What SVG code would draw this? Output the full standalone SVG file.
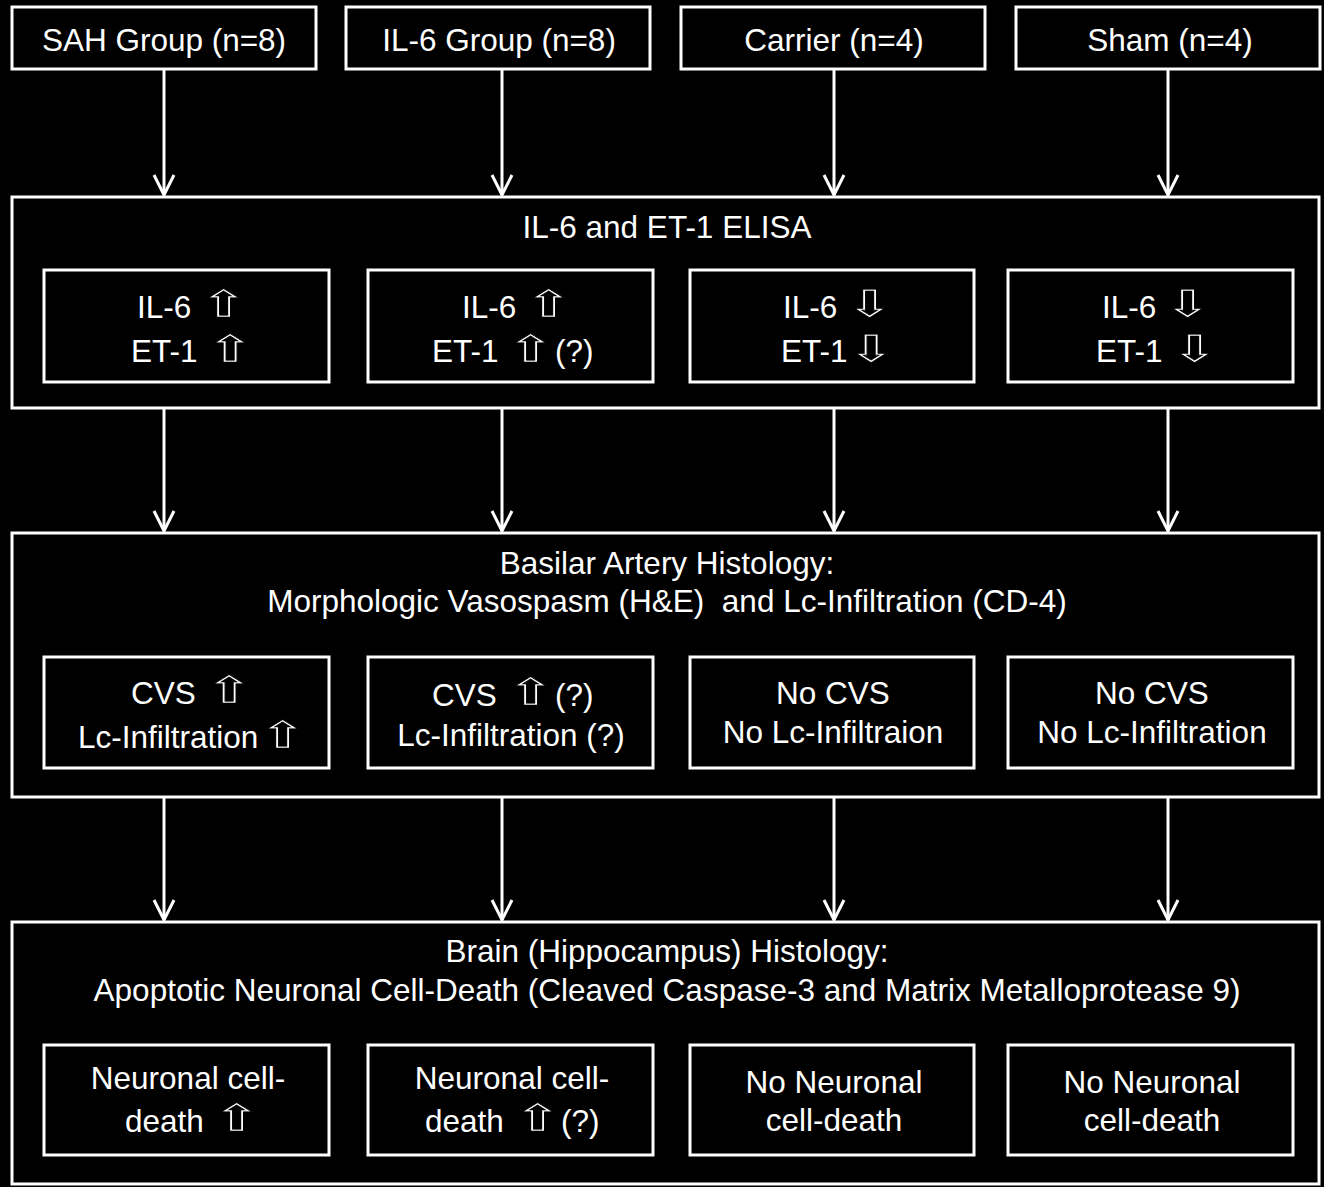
<svg xmlns="http://www.w3.org/2000/svg" width="1324" height="1187" viewBox="0 0 1324 1187">
<defs>
<style>
.box{fill:#000;stroke:#fff;stroke-width:3}
.t{font-family:"Liberation Sans",Arial,sans-serif;font-size:31.5px;fill:#fff;white-space:pre}
.m{text-anchor:middle}
.g{font-family:"DejaVu Sans",sans-serif;font-size:38px;fill:#fff;stroke:#000;stroke-width:0.7px;text-anchor:middle}
.c{stroke:#fff;stroke-width:3;fill:none}
</style>
<marker id="ah" markerUnits="userSpaceOnUse" markerWidth="30" markerHeight="30" viewBox="-25 -15 30 30" refX="0" refY="0" orient="auto">
<path d="M-20,-10 L0,0 L-20,10" fill="none" stroke="#fff" stroke-width="3"/>
</marker>
</defs>
<rect x="0" y="0" width="1324" height="1187" fill="#000"/>

<g id="sah-group">
<rect class="box" x="12" y="7" width="304" height="62"/>
<text class="t m" x="164" y="51">SAH Group (n=8)</text>
</g>
<g id="il6-group">
<rect class="box" x="346" y="7" width="304" height="62"/>
<text class="t m" x="499" y="51">IL-6 Group (n=8)</text>
</g>
<g id="carrier">
<rect class="box" x="681" y="7" width="304" height="62"/>
<text class="t m" x="834" y="51">Carrier (n=4)</text>
</g>
<g id="sham">
<rect class="box" x="1016" y="7" width="304" height="62"/>
<text class="t m" x="1170" y="51">Sham (n=4)</text>
</g>

<g id="elisa">
<rect class="box" x="12" y="197" width="1307" height="211"/>
<text class="t m" x="667" y="238">IL-6 and ET-1 ELISA</text>
</g>
<g id="elisa-sah">
<rect class="box" x="44" y="270" width="285" height="112"/>
<text class="t" x="137" y="318">IL-6</text><text class="g" transform="translate(224,317) scale(1.6,1)">⇧</text>
<text class="t" x="131" y="362">ET-1</text><text class="g" transform="translate(230.5,362) scale(1.6,1)">⇧</text>
</g>
<g id="elisa-il6">
<rect class="box" x="368" y="270" width="285" height="112"/>
<text class="t" x="462" y="318">IL-6</text><text class="g" transform="translate(549,317) scale(1.6,1)">⇧</text>
<text class="t" x="432" y="362">ET-1</text><text class="g" transform="translate(531,362) scale(1.6,1)">⇧</text><text class="t" x="555" y="362">(?)</text>
</g>
<g id="elisa-carrier">
<rect class="box" x="690" y="270" width="284" height="112"/>
<text class="t" x="783" y="318">IL-6</text><text class="g" transform="translate(870,317) scale(1.6,1)">⇩</text>
<text class="t" x="781" y="362">ET-1</text><text class="g" transform="translate(871.5,362) scale(1.6,1)">⇩</text>
</g>
<g id="elisa-sham">
<rect class="box" x="1008" y="270" width="285" height="112"/>
<text class="t" x="1102" y="318">IL-6</text><text class="g" transform="translate(1188,317) scale(1.6,1)">⇩</text>
<text class="t" x="1096" y="362">ET-1</text><text class="g" transform="translate(1195,362) scale(1.6,1)">⇩</text>
</g>

<g id="basilar">
<rect class="box" x="12" y="533" width="1307" height="264"/>
<text class="t m" x="667" y="574">Basilar Artery Histology:</text>
<text class="t m" x="667" y="612">Morphologic Vasospasm (H&amp;E)  and Lc-Infiltration (CD-4)</text>
</g>
<g id="basilar-sah">
<rect class="box" x="44" y="657" width="285" height="111"/>
<text class="t" x="131" y="704">CVS</text><text class="g" transform="translate(229.5,703) scale(1.6,1)">⇧</text>
<text class="t" x="78" y="748">Lc-Infiltration</text><text class="g" transform="translate(283,748) scale(1.6,1)">⇧</text>
</g>
<g id="basilar-il6">
<rect class="box" x="368" y="657" width="285" height="111"/>
<text class="t" x="432" y="706">CVS</text><text class="g" transform="translate(531,705) scale(1.6,1)">⇧</text><text class="t" x="555" y="706">(?)</text>
<text class="t m" x="511" y="746">Lc-Infiltration (?)</text>
</g>
<g id="basilar-carrier">
<rect class="box" x="690" y="657" width="284" height="111"/>
<text class="t m" x="833" y="704">No CVS</text>
<text class="t m" x="833" y="743">No Lc-Infiltraion</text>
</g>
<g id="basilar-sham">
<rect class="box" x="1008" y="657" width="285" height="111"/>
<text class="t m" x="1152" y="704">No CVS</text>
<text class="t m" x="1152" y="743">No Lc-Infiltration</text>
</g>

<g id="brain">
<rect class="box" x="12" y="922" width="1307" height="262"/>
<text class="t m" x="667" y="962">Brain (Hippocampus) Histology:</text>
<text class="t m" x="667" y="1001">Apoptotic Neuronal Cell-Death (Cleaved Caspase-3 and Matrix Metalloprotease 9)</text>
</g>
<g id="brain-sah">
<rect class="box" x="44" y="1045" width="285" height="110"/>
<text class="t m" x="188" y="1089">Neuronal cell-</text>
<text class="t" x="125" y="1132">death</text><text class="g" transform="translate(237,1131) scale(1.6,1)">⇧</text>
</g>
<g id="brain-il6">
<rect class="box" x="368" y="1045" width="285" height="110"/>
<text class="t m" x="512" y="1089">Neuronal cell-</text>
<text class="t" x="425" y="1132">death</text><text class="g" transform="translate(538,1131) scale(1.6,1)">⇧</text><text class="t" x="561" y="1132">(?)</text>
</g>
<g id="brain-carrier">
<rect class="box" x="690" y="1045" width="284" height="110"/>
<text class="t m" x="834" y="1093">No Neuronal</text>
<text class="t m" x="834" y="1131">cell-death</text>
</g>
<g id="brain-sham">
<rect class="box" x="1008" y="1045" width="285" height="110"/>
<text class="t m" x="1152" y="1093">No Neuronal</text>
<text class="t m" x="1152" y="1131">cell-death</text>
</g>

<g id="connectors">
<line class="c" x1="164" y1="70" x2="164" y2="195" marker-end="url(#ah)"/>
<line class="c" x1="502" y1="70" x2="502" y2="195" marker-end="url(#ah)"/>
<line class="c" x1="834" y1="70" x2="834" y2="195" marker-end="url(#ah)"/>
<line class="c" x1="1168" y1="70" x2="1168" y2="195" marker-end="url(#ah)"/>
<line class="c" x1="164" y1="409" x2="164" y2="531" marker-end="url(#ah)"/>
<line class="c" x1="502" y1="409" x2="502" y2="531" marker-end="url(#ah)"/>
<line class="c" x1="834" y1="409" x2="834" y2="531" marker-end="url(#ah)"/>
<line class="c" x1="1168" y1="409" x2="1168" y2="531" marker-end="url(#ah)"/>
<line class="c" x1="164" y1="798" x2="164" y2="920" marker-end="url(#ah)"/>
<line class="c" x1="502" y1="798" x2="502" y2="920" marker-end="url(#ah)"/>
<line class="c" x1="834" y1="798" x2="834" y2="920" marker-end="url(#ah)"/>
<line class="c" x1="1168" y1="798" x2="1168" y2="920" marker-end="url(#ah)"/>
</g>
</svg>
